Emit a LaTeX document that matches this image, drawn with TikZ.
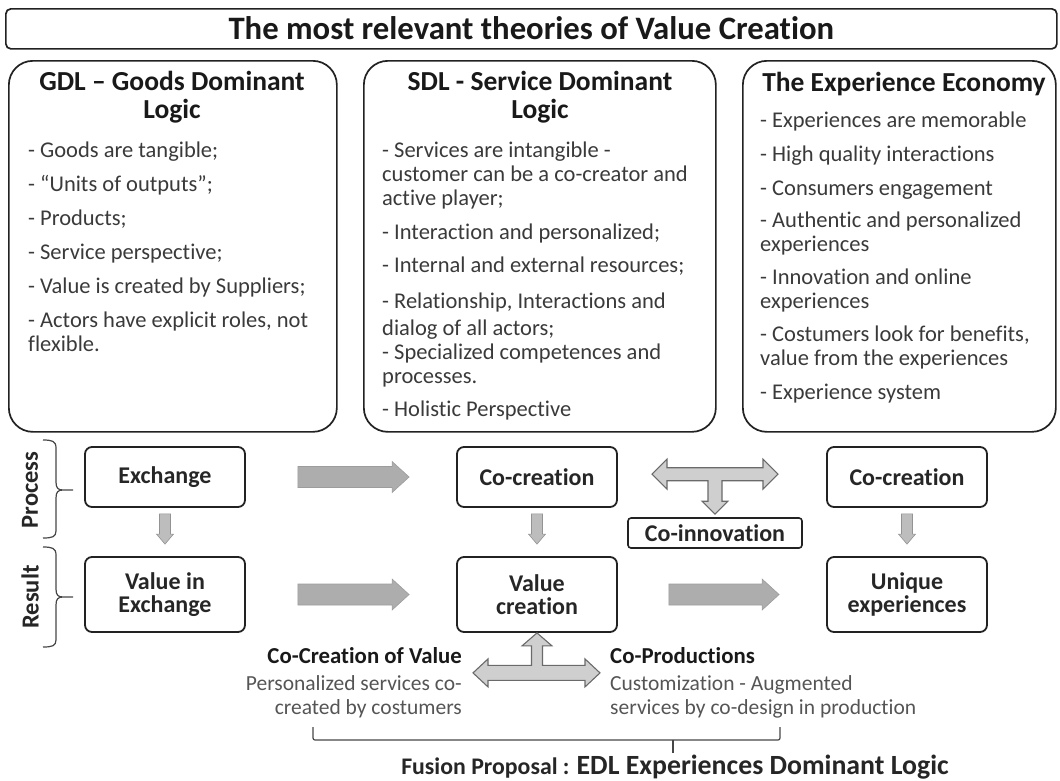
\documentclass[tikz,border=0pt]{standalone}
\usepackage{fontspec}
\setmainfont{Carlito}[Ligatures=NoCommon]
\usetikzlibrary{calc}
\definecolor{txt}{HTML}{3A3A3A}
\definecolor{subtxt}{HTML}{555555}
\definecolor{hfill}{HTML}{ADADAD}
\definecolor{tfill}{HTML}{CFCFCF}
\definecolor{tedge}{HTML}{6A6A6A}
\definecolor{bedge}{HTML}{222222}
\newcommand\hfat[2]{\path[hfatstyle] let \p1=(#1), \p2=(#2) in
  (\x1,\y1+10.5pt) -- (\x2-17pt,\y1+10.5pt) -- (\x2-17pt,\y1+15.5pt) -- (\x2,\y1)
  -- (\x2-17pt,\y1-15.5pt) -- (\x2-17pt,\y1-10.5pt) -- (\x1,\y1-10.5pt) -- cycle;}
\newcommand\vfat[2]{\path[vfatstyle] let \p1=(#1), \p2=(#2) in
  (\x1-5.5pt,\y1) -- (\x1-5.5pt,\y2+10pt) -- (\x1-8.5pt,\y2+10pt) -- (\x1,\y2)
  -- (\x1+8.5pt,\y2+10pt) -- (\x1+5.5pt,\y2+10pt) -- (\x1+5.5pt,\y1) -- cycle;}
\begin{document}
\begin{tikzpicture}[x=1pt,y=-1pt,
  bigbox/.style={draw=bedge, line width=1.7pt, rounded corners=24pt, anchor=north west, inner sep=0},
  smallbox/.style={draw=bedge, line width=1.8pt, rounded corners=7pt, minimum width=160pt,
    minimum height=60pt, align=center, font=\fontsize{24}{23.5}\selectfont\bfseries, text=black!85, inner sep=0},
  head/.style={align=center, font=\fontsize{27.5}{28}\selectfont\bfseries, text=black!90, inner sep=0, anchor=north},
  body/.style={align=left, font=\fontsize{22.5}{24}\selectfont, text=txt, inner sep=0, anchor=north west},
  hfatstyle/.style={fill=hfill, draw=hfill!90!black, line width=0.6pt},
  vfatstyle/.style={fill=hfill!80, draw=hfill!85!black, line width=0.6pt},
  tfat/.style={fill=tfill, draw=tedge, line width=1.1pt, line join=miter},
  bracestyle/.style={draw=gray!55!black, line width=1.2pt},
  sidelabel/.style={rotate=90, font=\fontsize{24.5}{24}\selectfont\bfseries, text=black!85, inner sep=0}
]
\useasboundingbox (0,0) rectangle (1060,780);

% title
\node[draw=bedge, line width=1.7pt, rounded corners=5pt, anchor=north west, minimum width=1051pt,
  minimum height=40pt, inner sep=0] (titlebox) at (5,8) {};
\node[font=\fontsize{32.7}{33}\selectfont\bfseries, text=black!90] (title) at ($(titlebox.center)+(0,-1)$) {The most relevant theories of Value Creation};

% big boxes
\node[bigbox, minimum width=328pt, minimum height=371pt] (gdl) at (8,60) {};
\node[bigbox, minimum width=352pt, minimum height=371pt] (sdl) at (363,60) {};
\node[bigbox, minimum width=313pt, minimum height=371pt] (exp) at (742,60) {};

\node[head] (gdlh) at (172,71) {GDL – Goods Dominant\\Logic};
\node[head] (sdlh) at (540,71) {SDL - Service Dominant\\Logic};
\node[head] (exph) at (904,72) {The Experience Economy};

\node[body] (gdlb) at (28,142) {- Goods are tangible;\\[10pt]
- “Units of outputs”;\\[10pt]
- Products;\\[10pt]
- Service perspective;\\[10pt]
- Value is created by Suppliers;\\[10pt]
- Actors have explicit roles, not\\
flexible.};

\node[body] (sdlb) at (382,142) {- Services are intangible -\\
customer can be a co-creator and\\
active player;\\[10pt]
- Interaction and personalized;\\[9pt]
- Internal and external resources;\\[12pt]
- Relationship, Interactions and\\[3pt]
dialog of all actors;\\
- Specialized competences and\\
processes.\\[9pt]
- Holistic Perspective};

\node[body] (expb) at (760,112) {- Experiences are memorable\\[10pt]
- High quality interactions\\[10pt]
- Consumers engagement\\[8pt]
- Authentic and personalized\\
experiences\\[9pt]
- Innovation and online\\
experiences\\[9pt]
- Costumers look for benefits,\\
value from the experiences\\[10pt]
- Experience system};

% lower boxes
\node[smallbox] (ex) at (165,477) {Exchange};
\node[smallbox, minimum height=75pt] (vie) at (165,594.5) {Value in\\Exchange};
\node[smallbox] (cc1) at (537,477) {Co-creation};
\node[smallbox, minimum height=75pt] (vc) at (537,594.5) {Value\\creation};
\node[smallbox] (cc2) at (907,477) {Co-creation};
\node[smallbox, minimum height=75pt] (ue) at (907,594.5) {Unique\\experiences};
\node[draw=bedge, line width=1.6pt, rounded corners=3pt, minimum width=174pt, minimum height=30pt,
  inner sep=0, font=\fontsize{24}{24}\selectfont\bfseries, text=black!85] (ci) at (715,533) {Co-innovation};

% fat arrows
\hfat{$(ex.east)+(52,0)$}{$(cc1.west)+(-47,0)$}
\hfat{$(vie.east)+(52,0)$}{$(vc.west)+(-47,0)$}
\hfat{$(vc.east)+(51,0)$}{$(ue.west)+(-47,0)$}
\vfat{$(ex.south)+(0,6)$}{$(vie.north)+(0,-12)$}
\vfat{$(cc1.south)+(0,6)$}{$(vc.north)+(0,-12)$}
\vfat{$(cc2.south)+(0,6)$}{$(ue.north)+(0,-12)$}

% T arrow towards co-innovation
\begin{scope}[shift={(ci.north)}]
\path[tfat] (-63,-43) -- (-48,-58) -- (-48,-49.5) -- (48,-49.5) -- (48,-58) -- (63,-43)
  -- (48,-28) -- (48,-36.5) -- (7,-36.5) -- (7,-16) -- (13,-16) -- (0,-3) -- (-13,-16)
  -- (-7,-16) -- (-7,-36.5) -- (-48,-36.5) -- (-48,-28) -- cycle;
\end{scope}
% T arrow below value creation
\begin{scope}[shift={(vc.south)}]
\path[tfat] (-64,40) -- (-49,26) -- (-49,32.5) -- (-5.5,32.5) -- (-5.5,13) -- (-15,13) -- (0,0)
  -- (15,13) -- (5.5,13) -- (5.5,32.5) -- (48,32.5) -- (48,26) -- (63,40) -- (48,54)
  -- (48,47.5) -- (-49,47.5) -- (-49,54) -- cycle;
\end{scope}

% side braces
\path[bracestyle] (43,440) .. controls (52,440) and (56,441) .. (56,448) -- (56,482)
  .. controls (56,488) and (58,490) .. (63,490) -- (73,490)
  (63,490) .. controls (58,490) and (56,492) .. (56,498) -- (56,531)
  .. controls (56,537) and (52,538) .. (43,538);
\path[bracestyle] (43,547) .. controls (52,547) and (56,548) .. (56,555) -- (56,589)
  .. controls (56,595) and (58,597) .. (63,597) -- (73,597)
  (63,597) .. controls (58,597) and (56,599) .. (56,605) -- (56,640)
  .. controls (56,646) and (52,647) .. (43,647);
\node[sidelabel] (proc) at (30,490) {Process};
\node[sidelabel] (res) at (30,597) {Result};

% bottom texts
\node[align=right, anchor=north east, inner sep=0, font=\fontsize{21.5}{24}\selectfont, text=subtxt] (ccv) at (462,647)
  {{\fontsize{22.8}{24}\selectfont\bfseries\color{black!90}Co-Creation of Value}\\[3pt]
  Personalized services co-\\created by costumers};
\node[align=left, anchor=north west, inner sep=0, font=\fontsize{21.5}{24}\selectfont, text=subtxt] (cop) at (610,647)
  {{\fontsize{22.8}{24}\selectfont\bfseries\color{black!90}Co-Productions}\\[3pt]
  Customization - Augmented\\services by co-design in production};

% bottom brace
\path[bracestyle, rounded corners=2pt] (313,727) -- (313,740) -- (780,740) -- (780,727);
\path[bracestyle] (673,740) -- (673,753);
\node[inner sep=0, text=black!85] (fusion) at (675,767)
  {\fontsize{23.8}{24}\selectfont\bfseries Fusion Proposal : \fontsize{27.8}{28}\selectfont EDL Experiences Dominant Logic};
\end{tikzpicture}
\end{document}
